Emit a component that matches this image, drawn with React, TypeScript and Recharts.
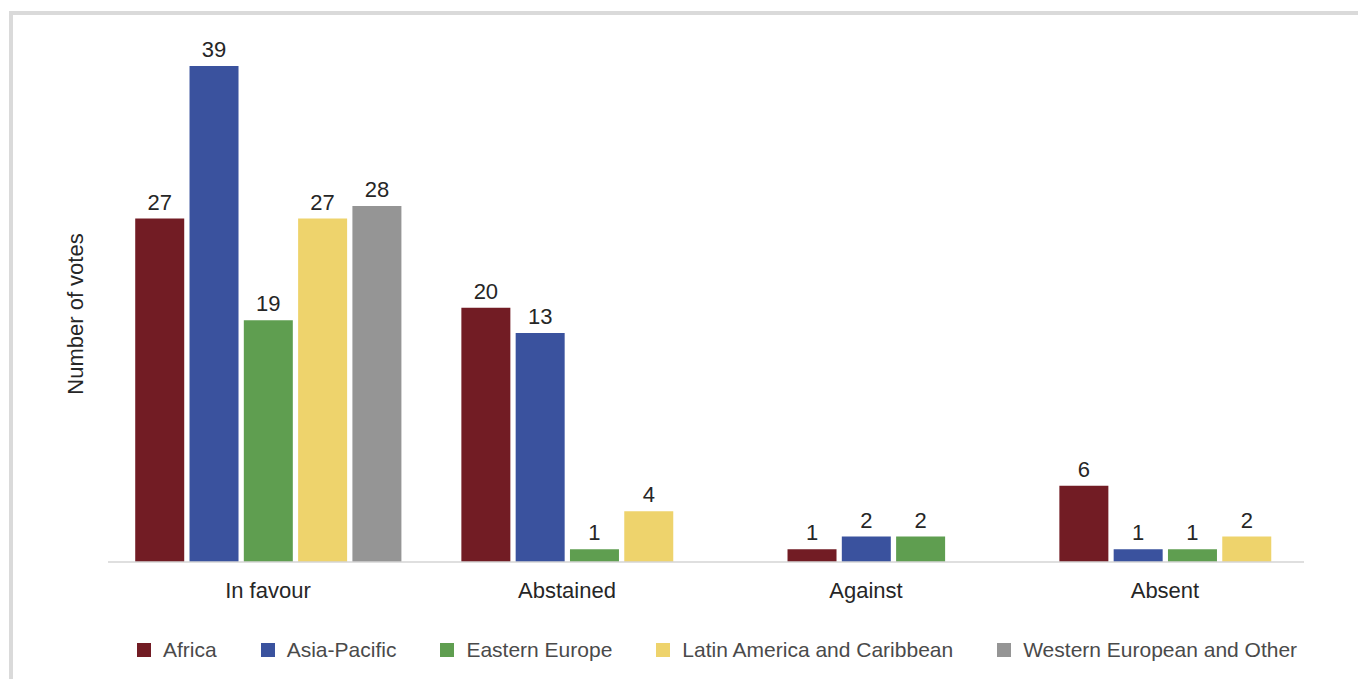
import { BarChart, Bar, XAxis, YAxis, LabelList, Legend } from "recharts";
import type { CSSProperties } from "react";

const CATEGORIES = ["In favour", "Abstained", "Against", "Absent"];

const SERIES = [
  "Africa",
  "Asia-Pacific",
  "Eastern Europe",
  "Latin America and Caribbean",
  "Western European and Other",
];

const COLORS = ["#721c24", "#3a529e", "#5f9e50", "#eed36c", "#959595"];

// printed votes per category, same order as CATEGORIES
const AFRICA = [27, 20, 1, 6];
const ASIA_PACIFIC = [39, 13, 2, 1];
const EASTERN_EUROPE = [19, 1, 2, 1];
const LATIN_AMERICA = [27, 4, 0, 2];
const WESTERN_EUROPE = [28, 0, 0, 0];

// bar heights as drawn in the source (its "13" bar is drawn about 18 high)
const ASIA_PACIFIC_BARS = [39, 18, 2, 1];

const VALUES = [AFRICA, ASIA_PACIFIC, EASTERN_EUROPE, LATIN_AMERICA, WESTERN_EUROPE];
const BARS = [AFRICA, ASIA_PACIFIC_BARS, EASTERN_EUROPE, LATIN_AMERICA, WESTERN_EUROPE];

// distance between neighbouring bars, in category units
const BAR_STEP = 0.1816;

// one row per drawn bar; empty (zero) bars are dropped and the group is re-centred
const rows: Record<string, number>[] = [];
CATEGORIES.forEach((_, c) => {
  const present = SERIES.map((_, s) => s).filter((s) => VALUES[s][c] > 0);
  present.forEach((s, k) => {
    rows.push({
      x: c + (k - (present.length - 1) / 2) * BAR_STEP,
      [SERIES[s]]: BARS[s][c],
      [SERIES[s] + "_label"]: VALUES[s][c],
    });
  });
});

const frameStyle: CSSProperties = {
  position: "fixed",
  left: 9,
  top: 11,
  width: 1400,
  height: 700,
  borderTop: "4px solid #dadada",
  borderLeft: "4px solid #dadada",
  background: "#fff",
  fontFamily: "'Liberation Sans', Arial, sans-serif",
};

const renderLegend = () => (
  <div style={{ display: "flex", alignItems: "center", height: 30 }}>
    {SERIES.map((name, i) => (
      <div key={name} style={{ display: "flex", alignItems: "center", marginRight: 44 }}>
        <span
          style={{
            display: "inline-block",
            width: 14,
            height: 14,
            background: COLORS[i],
            marginRight: 12,
          }}
        />
        <span style={{ fontSize: 21, color: "#4a4a4a", whiteSpace: "nowrap" }}>{name}</span>
      </div>
    ))}
  </div>
);

export default function App() {
  return (
    <div style={frameStyle}>
      <BarChart
        width={1345}
        height={664}
        data={rows}
        margin={{ top: 51, right: 54, bottom: 47, left: 29 }}
      >
        <XAxis
          dataKey="x"
          type="number"
          domain={[-0.535, 3.465]}
          ticks={[0, 1, 2, 3]}
          interval={0}
          allowDataOverflow
          tickFormatter={(v: number) => CATEGORIES[Math.round(v)]}
          tickLine={false}
          tickMargin={14}
          height={40}
          axisLine={{ stroke: "#d4d4d4", strokeWidth: 1.5 }}
          tick={{ fontSize: 22, fill: "#262626" }}
        />
        <YAxis
          type="number"
          domain={[0, 39]}
          width={66}
          tick={false}
          tickLine={false}
          axisLine={false}
          label={{
            value: "Number of votes",
            angle: -90,
            position: "center",
            style: { fontSize: 22, fill: "#262626" },
          }}
        />
        <Legend
          verticalAlign="bottom"
          content={renderLegend}
          wrapperStyle={{ top: 620, left: 124, width: 1200, height: 30 }}
        />
        {SERIES.map((name, i) => (
          <Bar
            key={name}
            dataKey={name}
            stackId="votes"
            fill={COLORS[i]}
            barSize={49}
            isAnimationActive={false}
          >
            <LabelList
              dataKey={name + "_label"}
              position="top"
              offset={9}
              style={{ fontSize: 22, fill: "#262626" }}
            />
          </Bar>
        ))}
      </BarChart>
    </div>
  );
}
